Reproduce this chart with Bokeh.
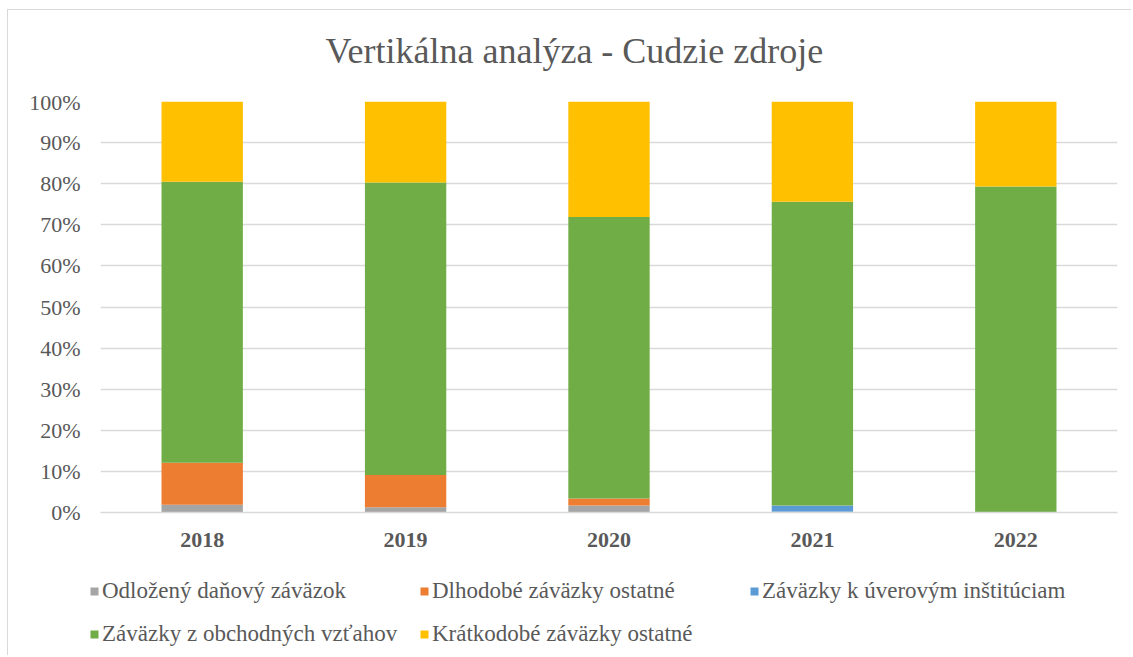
from bokeh.plotting import figure
from bokeh.models import (ColumnDataSource, FixedTicker, NumeralTickFormatter,
                          Legend, LegendItem, Label, Range1d)
from bokeh.embed import file_html
from bokeh.resources import INLINE

title_text = "Vertikálna analýza - Cudzie zdroje"
years = ["2018", "2019", "2020", "2021", "2022"]
series_names = ["Odložený daňový záväzok", "Dlhodobé záväzky ostatné",
                "Záväzky k úverovým inštitúciam", "Záväzky z obchodných vzťahov",
                "Krátkodobé záväzky ostatné"]
odlozeny = [0.019, 0.013, 0.017, 0.002, 0.0]
dlhodobe = [0.102, 0.078, 0.017, 0.0, 0.0]
uverove = [0.0, 0.0, 0.0, 0.015, 0.0]
obchodne = [0.684, 0.712, 0.685, 0.739, 0.793]
kratkodobe = [0.195, 0.197, 0.281, 0.244, 0.207]
colors = ["#A5A5A5", "#ED7D31", "#5B9BD5", "#70AD47", "#FFC000"]
y_ticks = [0.0, 0.1, 0.2, 0.3, 0.4, 0.5, 0.6, 0.7, 0.8, 0.9, 1.0]

keys = ["odl", "dlh", "uve", "obc", "kra"]
src = ColumnDataSource(dict(years=years, odl=odlozeny, dlh=dlhodobe, uve=uverove,
                            obc=obchodne, kra=kratkodobe))

FONT = "Liberation Serif"
TXT = "#595959"


def strip(height):
    f = figure(width=1124, height=height, x_range=Range1d(0, 1), y_range=Range1d(0, 1),
               output_backend="svg", toolbar_location=None,
               x_axis_location=None, y_axis_location=None,
               min_border_left=0, min_border_right=0, min_border_top=0,
               min_border_bottom=0)
    f.outline_line_color = None
    f.xgrid.visible = False
    f.ygrid.visible = False
    return f


# title strip
tf = strip(80)
tf.styles = {"margin-left": "7px", "margin-top": "9px",
             "border-left": "1px solid #D9D9D9", "border-top": "1px solid #D9D9D9"}
tf.add_layout(Label(x=317, y=40, x_units="screen", y_units="screen", text=title_text,
                    text_font=FONT, text_font_size="36px", text_color=TXT,
                    text_baseline="middle", text_align="left"))

# main chart
p = figure(x_range=years, y_range=Range1d(0, 1), width=1124, height=468,
           output_backend="svg", toolbar_location=None,
           min_border_left=92, min_border_right=15, min_border_top=12,
           min_border_bottom=45)
p.styles = {"margin-left": "7px", "border-left": "1px solid #D9D9D9"}

renderers = p.vbar_stack(keys, x="years", width=0.4, color=colors, source=src,
                         line_color=None)

p.outline_line_color = None
p.xgrid.grid_line_color = None
p.ygrid.grid_line_color = "#D9D9D9"
p.ygrid.grid_line_width = 1.5

p.yaxis.ticker = FixedTicker(ticks=y_ticks)
p.yaxis.formatter = NumeralTickFormatter(format="0%")
p.yaxis.axis_line_color = None
p.yaxis.major_tick_line_color = None
p.yaxis.minor_tick_line_color = None
p.yaxis.major_label_standoff = 14
p.yaxis.major_label_text_font = FONT
p.yaxis.major_label_text_font_size = "22px"
p.yaxis.major_label_text_color = TXT

p.xaxis.axis_line_color = "#D9D9D9"
p.xaxis.axis_line_width = 1.5
p.xaxis.major_tick_line_color = None
p.xaxis.minor_tick_line_color = None
p.xaxis.major_label_standoff = 14
p.xaxis.major_label_text_font = FONT
p.xaxis.major_label_text_font_size = "22px"
p.xaxis.major_label_text_font_style = "bold"
p.xaxis.major_label_text_color = TXT

# legend strip below the chart
lg = strip(98)
lg.styles = {"margin-left": "7px", "border-left": "1px solid #D9D9D9"}
proxy_src = ColumnDataSource(dict(x=[0.5], top=[0.0]))
proxies = [lg.vbar(x="x", top="top", width=0.1, fill_color=c, line_color=None,
                   source=proxy_src) for c in colors]

items = [LegendItem(label=n, renderers=[r]) for n, r in zip(series_names, proxies)]
legend = Legend(items=items, location=(81, 8), orientation="horizontal", ncols=3,
                glyph_width=10, glyph_height=10, label_standoff=3, label_width=300,
                spacing=17, padding=0, margin=0, border_line_color=None,
                background_fill_alpha=0, label_text_font=FONT,
                label_text_font_size="23px", label_text_color=TXT,
                label_height=24)
lg.add_layout(legend, "center")

open("out.html", "w").write(file_html([tf, p, lg], INLINE))
